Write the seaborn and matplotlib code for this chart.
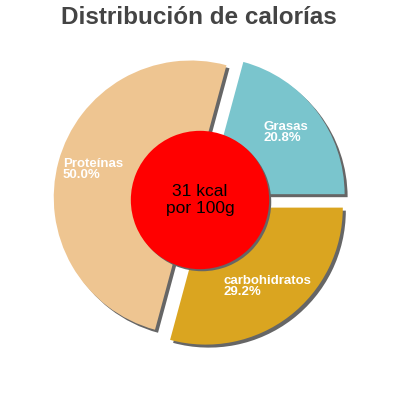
import matplotlib

matplotlib.use("Agg")
import matplotlib.pyplot as plt
import seaborn as sns

sns.set_theme(style="white", rc={"axes.facecolor": "white", "figure.facecolor": "white"})
plt.rcParams["font.family"] = ["Liberation Sans", "DejaVu Sans"]

# data
nutrients = ["Grasas", "Proteínas", "carbohidratos"]
percent = [20.8, 50.0, 29.2]
slice_colors = ["#7AC5CD", "#EEC591", "#DAA520"]
kcal = 31
title = "Distribución de calorías"

# label anchors (left/top) in data units, picked to match the layout
label_pos = {"Grasas": (0.467, 0.578), "Proteínas": (-1.0, 0.31), "carbohidratos": (0.168, -0.545)}

explode = [0.07] * len(percent)
shadow_off = (0.022, -0.022)
shadow_col = "#666666"
no_edge = {"linewidth": 0, "edgecolor": "none"}

fig = plt.figure(figsize=(4, 4), dpi=100)
ax = fig.add_axes([0, 0, 1, 1])

# shadows first, then the real slices on top
ax.pie(percent, explode=explode, startangle=0, counterclock=True,
       colors=[shadow_col] * len(percent), center=shadow_off, radius=1.0, wedgeprops=no_edge)
ax.pie(percent, explode=explode, startangle=0, counterclock=True,
       colors=slice_colors, radius=1.0, wedgeprops=no_edge)

# centre disc with its shadow
ax.pie([1], colors=[shadow_col], radius=0.505, center=(0.015, -0.015), wedgeprops=no_edge)
ax.pie([1], colors=["#FF0000"], radius=0.505, center=(0.0, 0.0), wedgeprops=no_edge)

for name, p in zip(nutrients, percent):
    x, y = label_pos[name]
    ax.text(x, y, f"{name}\n{p:.1f}%", color="white", fontsize=9.5, fontweight="bold",
            ha="left", va="top", linespacing=0.9)

ax.text(0.0, 0.0, f"{kcal} kcal\npor 100g", color="black", fontsize=12.5,
        ha="center", va="center", linespacing=1.1)

ax.set_xlim(-1.46, 1.46)
ax.set_ylim(-1.46, 1.46)
ax.set_aspect("equal")
ax.axis("off")

fig.text(0.497, 0.956, title, ha="center", va="center", fontsize=17.5,
         fontweight="bold", color="#444444")

fig.savefig("out.png", dpi=100)
plt.close(fig)
